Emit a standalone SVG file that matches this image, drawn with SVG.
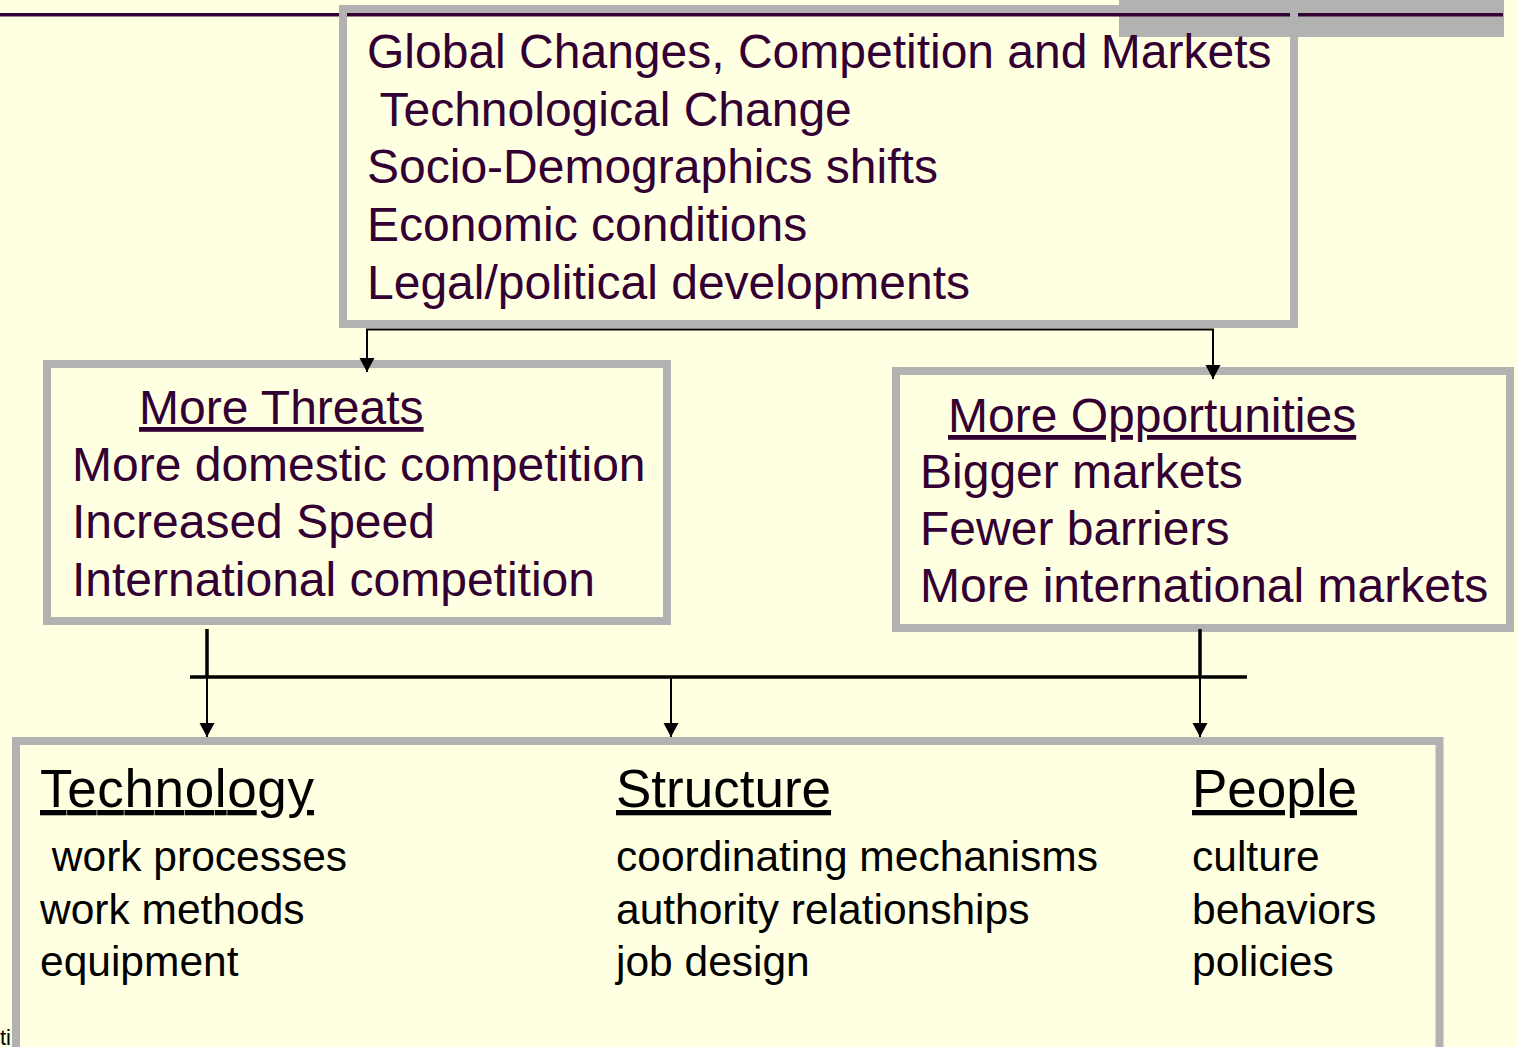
<svg xmlns="http://www.w3.org/2000/svg" width="1518" height="1047" viewBox="0 0 1518 1047">
  <style>
    .box { fill: none; stroke: #B2B2B2; stroke-width: 8; }
    .t { font-family: "Liberation Sans", Arial, sans-serif; fill: #330033; font-size: 48px; }
    .b { font-family: "Liberation Sans", Arial, sans-serif; fill: #000000; font-size: 42.5px; }
    .h { font-family: "Liberation Sans", Arial, sans-serif; fill: #000000; font-size: 53px; }
    .thin { fill: none; stroke: #000; stroke-width: 2; }
    .thick { fill: none; stroke: #000; stroke-width: 3.5; }
  </style>
  <defs>
    <marker id="arrow" markerUnits="userSpaceOnUse" viewBox="0 -8 16 16" refX="14" refY="0" markerWidth="16" markerHeight="16" orient="auto">
      <path d="M0,-7.5 L14,0 L0,7.5 z" fill="#000"/>
    </marker>
  </defs>

  <rect x="0" y="0" width="1518" height="1047" fill="#FFFFE1"/>

  <!-- title bar decoration -->
  <rect x="1119" y="0" width="385" height="37" fill="#B2B2B2"/>
  <line x1="0" y1="14.7" x2="1503" y2="14.7" stroke="#330033" stroke-width="3.5"/>

  <!-- small footer fragment -->
  <text x="0" y="1045" font-family="Liberation Sans, Arial, sans-serif" font-size="22" fill="#000">ti</text>

  <!-- environment drivers -->
  <g id="drivers">
    <rect class="box" x="343" y="9" width="951" height="315"/>
    <text class="t" x="367" y="68">Global Changes, Competition and Markets</text>
    <text class="t" x="367" y="126" xml:space="preserve"> Technological Change</text>
    <text class="t" x="367" y="183">Socio-Demographics shifts</text>
    <text class="t" x="367" y="241">Economic conditions</text>
    <text class="t" x="367" y="299">Legal/political developments</text>
  </g>

  <!-- threats -->
  <g id="threats">
    <rect class="box" x="47" y="364" width="620" height="257"/>
    <text class="t" x="139" y="424" text-decoration="underline">More Threats</text>
    <text class="t" x="72" y="481">More domestic competition</text>
    <text class="t" x="72" y="538">Increased Speed</text>
    <text class="t" x="72" y="596">International competition</text>
  </g>

  <!-- opportunities -->
  <g id="opportunities">
    <rect class="box" x="896" y="371" width="614" height="257"/>
    <text class="t" x="948" y="432" text-decoration="underline">More Opportunities</text>
    <text class="t" x="920" y="488">Bigger markets</text>
    <text class="t" x="920" y="545">Fewer barriers</text>
    <text class="t" x="920" y="602">More international markets</text>
  </g>

  <!-- areas of change -->
  <g id="change-areas">
    <rect class="box" x="16" y="741" width="1423.5" height="400"/>
    <g id="technology">
      <text class="h" x="40" y="807" text-decoration="underline" textLength="274">Technology</text>
      <text class="b" x="40" y="871" xml:space="preserve"> work processes</text>
      <text class="b" x="40" y="924">work methods</text>
      <text class="b" x="40" y="976">equipment</text>
    </g>
    <g id="structure">
      <text class="h" x="616" y="807" text-decoration="underline">Structure</text>
      <text class="b" x="616" y="871">coordinating mechanisms</text>
      <text class="b" x="616" y="924">authority relationships</text>
      <text class="b" x="616" y="976">job design</text>
    </g>
    <g id="people">
      <text class="h" x="1192" y="807" text-decoration="underline">People</text>
      <text class="b" x="1192" y="871">culture</text>
      <text class="b" x="1192" y="924">behaviors</text>
      <text class="b" x="1192" y="976">policies</text>
    </g>
  </g>

  <!-- connectors -->
  <g id="connectors">
    <path class="thin" d="M790,329.5 H367 V372" marker-end="url(#arrow)"/>
    <path class="thin" d="M790,329.5 H1213 V379" marker-end="url(#arrow)"/>
    <line class="thick" x1="207" y1="629" x2="207" y2="677"/>
    <line class="thick" x1="1200" y1="629" x2="1200" y2="677"/>
    <line class="thick" x1="190" y1="677" x2="1247" y2="677"/>
    <line class="thin" x1="207" y1="677" x2="207" y2="737" marker-end="url(#arrow)"/>
    <line class="thin" x1="671" y1="677" x2="671" y2="737" marker-end="url(#arrow)"/>
    <line class="thin" x1="1200" y1="677" x2="1200" y2="737" marker-end="url(#arrow)"/>
  </g>
</svg>
